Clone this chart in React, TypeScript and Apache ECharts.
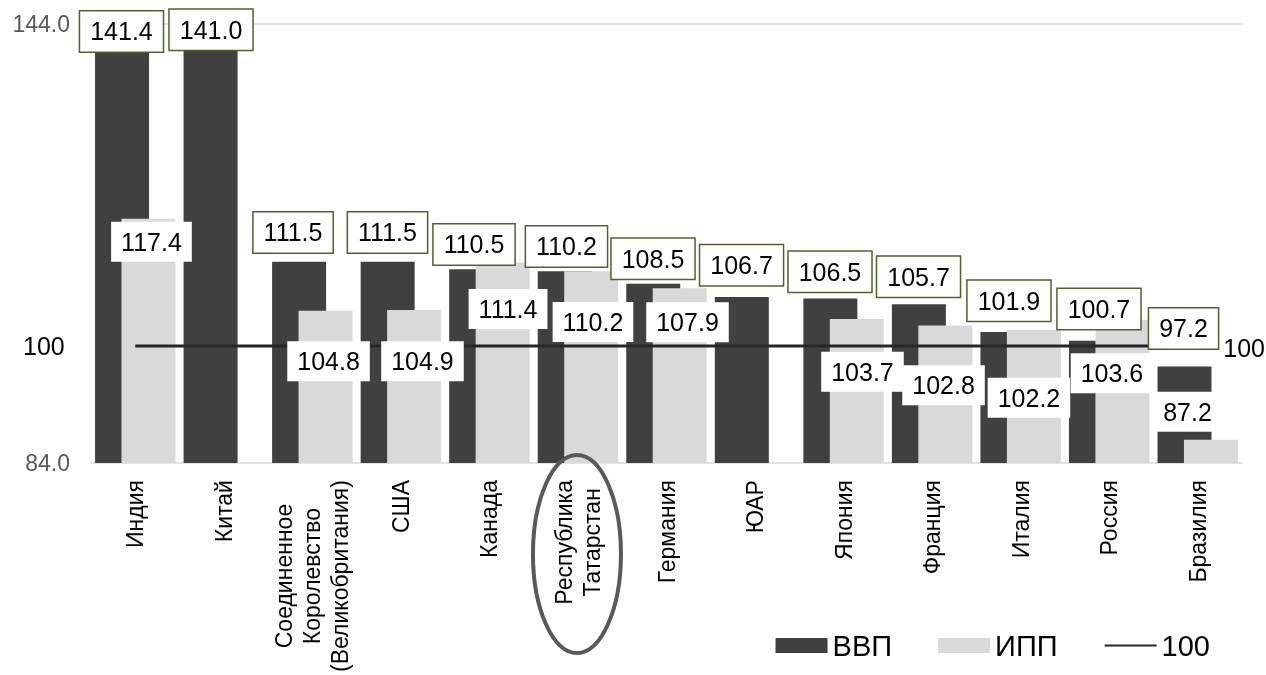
import React, { useEffect, useRef } from "react";
import * as echarts from "echarts";

const categories = [
  "Индия",
  "Китай",
  "Соединенное\nКоролевство\n(Великобритания)",
  "США",
  "Канада",
  "Республика\nТатарстан",
  "Германия",
  "ЮАР",
  "Япония",
  "Франция",
  "Италия",
  "Россия",
  "Бразилия",
];
const gdp = [141.4, 141.0, 111.5, 111.5, 110.5, 110.2, 108.5, 106.7, 106.5, 105.7, 101.9, 100.7, 97.2];
const ipp = [117.4, null, 104.8, 104.9, 111.4, 110.2, 107.9, null, 103.7, 102.8, 102.2, 103.6, 87.2];
const baseline = [100, 100, 100, 100, 100, 100, 100, 100, 100, 100, 100, 100, 100];
const yTickLabels = [84, 144];
const highlighted = "Республика\nТатарстан";

// label placement (pixels, relative to data point) — styling only
const gdpLabelShift = [
  [-13.8, -11.6], [-12.8, -16.1], [-19.3, -29.4], [-13.4, -29.4], [-15.4, -24.7],
  [-11.5, -24.9], [-13.5, -24.9], [-13.5, -31.7], [-13.6, -26.6], [-13.6, -27.5],
  [-11.7, -31.4], [-10.2, -31.8], [-14.2, -38],
];
const ippLabelShift = [
  [16.2, 23], null, [16.2, 50.4], [21.6, 51.1], [18.6, 46.4],
  [15, 50.6], [21, 34.2], null, [18.9, 52.8], [11.4, 59.7],
  [8.3, 67.8], [2.8, 53.6], [-10.2, -28],
];

const FONT = "'Liberation Sans', Arial, sans-serif";
const DARK = "#404040";
const LIGHT = "#d9d9d9";

export default function App() {
  const ref = useRef<HTMLDivElement>(null);
  useEffect(() => {
    if (!ref.current) return;
    const chart = echarts.init(ref.current, null, { renderer: "svg" });

    const labelBase = {
      show: true,
      position: "inside",
      fontSize: 25,
      fontFamily: FONT,
      color: "#000",
      opacity: 1,
      backgroundColor: "#fff",
      padding: [7, 10],
      lineHeight: 26,
      formatter: (p: any) => (p.value[1] as number).toFixed(1),
    };
    const hiddenSymbol = { color: "rgba(0,0,0,0)", opacity: 1 };

    const option: any = {
      animation: false,
      textStyle: { fontFamily: FONT },
      grid: { left: 91, right: 24, top: 24, bottom: 210, containLabel: false },
      legend: {
        right: 51,
        top: 626,
        itemWidth: 52,
        itemHeight: 15,
        itemGap: 46,
        textStyle: { fontSize: 29, fontFamily: FONT, color: "#000" },
        data: [
          { name: "ВВП", icon: "rect" },
          { name: "ИПП", icon: "rect" },
          { name: "100", itemStyle: { opacity: 0 } },
        ],
      },
      xAxis: {
        type: "category",
        data: categories,
        axisLine: { lineStyle: { color: LIGHT, width: 1.5 } },
        axisTick: { show: false },
        axisLabel: {
          rotate: 90,
          interval: 0,
          margin: 17,
          formatter: (v: string) =>
            v
              .split("\n")
              .map((s) => `{c|${s}}`)
              .join("\n"),
          rich: {
            c: { align: "center", fontSize: 23, lineHeight: 28, fontFamily: FONT, color: "#000" },
          },
        },
      },
      yAxis: {
        type: "value",
        min: 84,
        max: 144,
        axisLine: { show: false },
        axisTick: { show: false },
        splitLine: { show: false },
        axisLabel: {
          customValues: yTickLabels,
          formatter: (v: number) => v.toFixed(1),
          color: "#595959",
          fontSize: 23,
          fontFamily: FONT,
          margin: 21,
        },
      },
      series: [
        {
          name: "ВВП",
          type: "bar",
          z: 2,
          data: gdp,
          barWidth: 54,
          barGap: "-51%",
          itemStyle: { color: DARK },
          markLine: {
            silent: true,
            symbol: "none",
            label: { show: false },
            lineStyle: { color: LIGHT, width: 1.5, type: "solid" },
            data: [{ yAxis: 144 }],
          },
        },
        {
          name: "ИПП",
          type: "bar",
          z: 2,
          data: ipp.map((v) => (v == null ? "-" : v)),
          barWidth: 54,
          barGap: "-51%",
          itemStyle: { color: LIGHT },
        },
        {
          name: "100",
          type: "line",
          z: 3,
          data: baseline,
          symbol: "none",
          showSymbol: false,
          lineStyle: { color: "#262626", width: 3 },
          itemStyle: { color: "#262626" },
        },
        {
          name: "baselineLabels",
          type: "scatter",
          z: 5,
          silent: true,
          symbolSize: 1,
          itemStyle: hiddenSymbol,
          data: [
            {
              value: [categories[0], baseline[0]],
              label: { position: "left", distance: 70 },
            },
            {
              value: [categories[categories.length - 1], baseline[baseline.length - 1]],
              label: { position: "right", distance: 25, offset: [0, 2] },
            },
          ],
          label: {
            show: true,
            fontSize: 25,
            fontFamily: FONT,
            color: "#000",
            opacity: 1,
            formatter: (p: any) => String(p.value[1]),
          },
        },
        {
          name: "gdpLabels",
          type: "scatter",
          z: 5,
          silent: true,
          symbolSize: 1,
          itemStyle: hiddenSymbol,
          data: gdp.map((v, i) => ({
            value: [categories[i], v],
            label: { offset: gdpLabelShift[i] },
          })),
          label: { ...labelBase, borderColor: "#4f6228", borderWidth: 1.5 },
        },
        {
          name: "ippLabels",
          type: "scatter",
          z: 5,
          silent: true,
          symbolSize: 1,
          itemStyle: hiddenSymbol,
          data: ipp
            .map((v, i) =>
              v == null
                ? null
                : { value: [categories[i], v], label: { offset: ippLabelShift[i] } }
            )
            .filter((d) => d != null),
          label: { ...labelBase },
        },
      ],
    };
    chart.setOption(option);

    const cx = chart.convertToPixel({ xAxisIndex: 0 }, highlighted) as number;
    chart.setOption({
      graphic: [
        {
          type: "ellipse",
          shape: { cx: cx - 1, cy: 554, rx: 44, ry: 99 },
          style: { fill: "none", stroke: "#595959", lineWidth: 4 },
          z: 10,
        },
      ],
    });

    return () => chart.dispose();
  }, []);

  return (
    <div
      ref={ref}
      style={{ position: "fixed", left: 0, top: 0, width: 1266, height: 675 }}
    />
  );
}
